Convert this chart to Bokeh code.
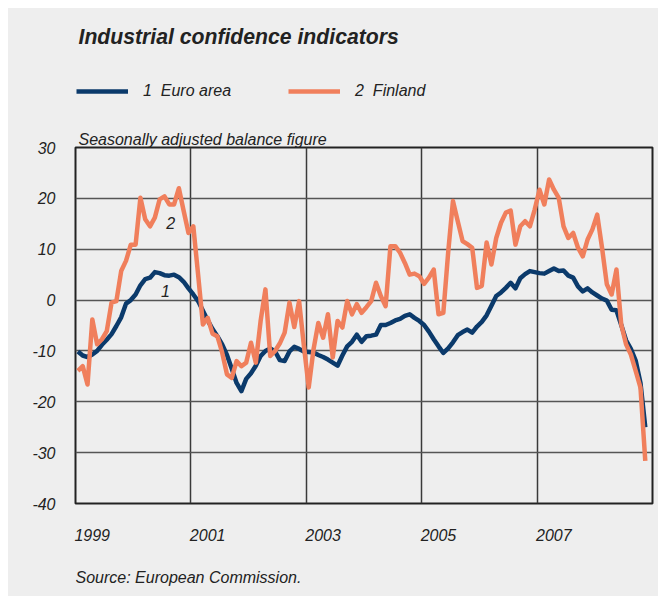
from bokeh.plotting import figure
from bokeh.layouts import column
from bokeh.models import Range1d, FixedTicker, CustomJSTickFormatter, Label, Legend, LegendItem, Title
from bokeh.embed import file_html
from bokeh.resources import INLINE

# ---- data (monthly, Jan 1999 - Nov 2008, seasonally adjusted balance) ----
euro_area = [-10.1, -10.9, -11.2, -10.7, -10.0, -8.8, -7.8, -6.7, -5.1, -3.4, -0.7, 0.0,
             1.1, 2.9, 4.1, 4.4, 5.5, 5.3, 4.9, 4.8, 5.0, 4.5, 3.6, 2.3,
             1.1, -0.2, -2.1, -4.0, -5.7, -7.1, -8.7, -10.8, -13.5, -16.3, -17.9, -15.5,
             -14.4, -12.9, -11.0, -10.0, -9.5, -10.1, -11.8, -12.0, -10.1, -9.2, -9.6, -10.1,
             -10.2, -10.3, -10.8, -11.2, -11.7, -12.3, -12.9, -10.9, -9.1, -8.2, -6.8, -8.2,
             -7.1, -7.0, -6.8, -4.9, -4.9, -4.5, -4.0, -3.7, -3.1, -2.8, -3.5, -4.1,
             -4.9, -6.2, -7.7, -9.1, -10.4, -9.5, -8.3, -6.9, -6.3, -5.8, -6.4, -5.2,
             -4.3, -3.0, -1.1, 0.8, 1.5, 2.4, 3.4, 2.3, 4.3, 5.1, 5.7, 5.5,
             5.3, 5.2, 5.7, 6.2, 5.7, 5.8, 4.8, 4.4, 2.7, 1.7, 2.3, 1.5,
             0.9, 0.3, -0.1, -1.9, -2.0, -4.9, -7.9, -9.6, -11.9, -16.3, -25.0]

finland = [-13.9, -13.0, -16.6, -3.8, -8.7, -7.7, -6.1, -0.5, -0.2, 5.7, 7.7, 10.9,
           10.9, 20.1, 15.9, 14.5, 16.2, 19.8, 20.4, 18.8, 18.8, 22.0, 17.5, 13.2,
           14.5, 5.0, -4.8, -3.5, -6.6, -7.1, -10.3, -14.6, -15.3, -12.0, -13.0, -12.3,
           -8.4, -12.3, -4.1, 2.1, -11.0, -10.0, -8.5, -6.4, -0.5, -5.3, -0.2, -9.0,
           -17.2, -9.7, -4.5, -7.4, -2.8, -11.3, -4.1, -5.4, -0.2, -2.8, -0.8, -2.5,
           -1.4, -0.2, 3.4, 0.8, -1.2, 10.6, 10.6, 9.3, 7.3, 5.0, 5.2, 4.7,
           3.2, 4.4, 6.0, -2.8, -2.5, 9.3, 19.5, 15.5, 11.6, 11.0, 10.3, 2.4,
           2.8, 11.3, 7.0, 12.2, 15.2, 17.2, 17.6, 10.9, 14.5, 15.5, 14.5, 17.8,
           21.7, 18.8, 23.7, 21.7, 20.1, 14.5, 12.2, 13.2, 10.3, 8.6, 11.9, 13.9,
           16.8, 10.3, 3.1, 1.1, 6.0, -4.8, -8.7, -10.7, -13.9, -17.2, -31.6]

series_names = ["1  Euro area", "2  Finland"]
start_year = 1999
end_year = 2009
year_labels = [1999, 2001, 2003, 2005, 2007]
y_ticks = [-40, -30, -20, -10, 0, 10, 20, 30]

months = [start_year + (i + 0.5) / 12 for i in range(len(euro_area))]

BG = "#eeeeee"
NAVY = "#0b3a6b"
ORANGE = "#f07f5c"
TXT = "#222222"
FONT = "Liberation Sans"
LW = 4.5
W = 650
HEADER_H = 119
FOOTER_H = 43
MAIN_H = 588 - HEADER_H - FOOTER_H


def blank(height):
    f = figure(width=W, height=height, x_range=Range1d(0, 1), y_range=Range1d(0, 1),
               output_backend="svg", toolbar_location=None, title=None,
               x_axis_location=None, y_axis_location=None,
               min_border=0, min_border_left=0, min_border_right=0, min_border_top=0, min_border_bottom=0,
               background_fill_color=BG, border_fill_color=BG, outline_line_color=None)
    f.grid.visible = False
    return f


# ---------------- header: title + legend ----------------
head = blank(HEADER_H)
# the series themselves lie outside the header's ranges; they only feed the legend samples
h_euro = head.line(months, euro_area, line_color=NAVY, line_width=LW)
h_fin = head.line(months, finland, line_color=ORANGE, line_width=LW)
head.add_layout(Label(x=3, y=HEADER_H - 28, x_units="screen", y_units="screen",
                      text="Industrial confidence indicators", text_font=FONT,
                      text_font_style="bold italic", text_font_size="21.2px", text_color=TXT,
                      text_baseline="alphabetic"))
legend = Legend(items=[LegendItem(label=series_names[0], renderers=[h_euro]),
                       LegendItem(label=series_names[1], renderers=[h_fin])],
                orientation="horizontal", location=(1, HEADER_H - 83 - 10),
                glyph_width=52, glyph_height=20, label_height=20, label_standoff=15, spacing=57,
                padding=0, margin=0, border_line_color=None, background_fill_alpha=0,
                label_text_font=FONT, label_text_font_style="italic",
                label_text_font_size="16px", label_text_color=TXT)
head.add_layout(legend)

# ---------------- main chart ----------------
p = figure(width=W, height=MAIN_H, x_range=Range1d(start_year, end_year), y_range=Range1d(-40, 30),
           output_backend="svg", toolbar_location=None, title=None,
           min_border_left=67, min_border_right=6, min_border_top=20, min_border_bottom=50,
           background_fill_color=BG, border_fill_color=BG,
           outline_line_color="#222222", outline_line_width=2)

p.line(months, euro_area, line_color=NAVY, line_width=LW, line_join="round")
p.line(months, finland, line_color=ORANGE, line_width=LW, line_join="round")

p.yaxis.ticker = FixedTicker(ticks=y_ticks)
p.yaxis.formatter = CustomJSTickFormatter(code="return tick.toFixed(0);")
p.xaxis.ticker = FixedTicker(ticks=[y + 0.29 for y in year_labels])
p.xaxis.formatter = CustomJSTickFormatter(code="return String(Math.floor(tick));")
for ax in (p.xaxis[0], p.yaxis[0]):
    ax.axis_line_color = None
    ax.major_tick_line_color = None
    ax.minor_tick_line_color = None
    ax.major_tick_out = 0
    ax.major_tick_in = 0
    ax.minor_tick_out = 0
    ax.major_label_text_font = FONT
    ax.major_label_text_font_style = "italic"
    ax.major_label_text_font_size = "16px"
    ax.major_label_text_color = TXT
p.yaxis.major_label_standoff = 20
p.xaxis.major_label_standoff = 25

p.xgrid.ticker = FixedTicker(ticks=[2001, 2003, 2005, 2007])
p.ygrid.ticker = FixedTicker(ticks=y_ticks)
p.xgrid.grid_line_color = "#3a3a3a"
p.ygrid.grid_line_color = "#555555"
p.xgrid.grid_line_width = 1.5
p.ygrid.grid_line_width = 1.5

subtitle = Title(text="Seasonally adjusted balance figure", align="left", offset=3, standoff=0,
                 text_font=FONT, text_font_style="italic", text_font_size="16px", text_color=TXT)
p.add_layout(subtitle, "above")

p.add_layout(Label(x=2000.56, y=1.8, text="1", text_font=FONT, text_font_style="italic",
                   text_font_size="16px", text_color=TXT, text_align="center", text_baseline="middle"))
p.add_layout(Label(x=2000.65, y=15.1, text="2", text_font=FONT, text_font_style="italic",
                   text_font_size="16px", text_color=TXT, text_align="center", text_baseline="middle"))

# ---------------- footer: source ----------------
foot = blank(FOOTER_H)
foot.add_layout(Label(x=0, y=FOOTER_H - 24, x_units="screen", y_units="screen",
                      text="Source: European Commission.", text_font=FONT,
                      text_font_style="italic", text_font_size="16px", text_color=TXT,
                      text_baseline="middle"))

layout = column(head, p, foot, spacing=0, margin=(8, 0, 0, 8), styles={"background-color": BG})
open("out.html", "w").write(file_html(layout, INLINE))
